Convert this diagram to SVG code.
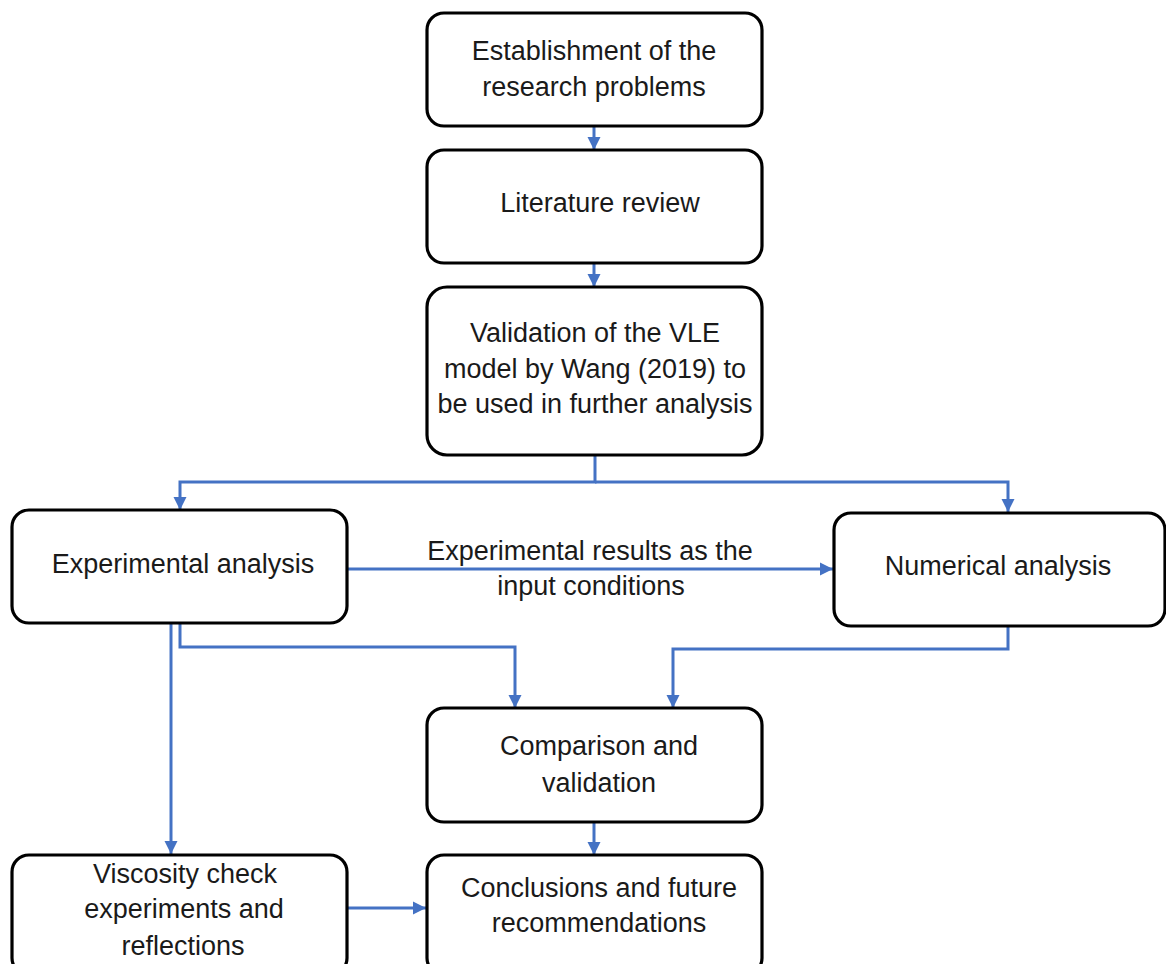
<svg xmlns="http://www.w3.org/2000/svg" width="1166" height="964" viewBox="0 0 1166 964">
<style>
.box{fill:#fff;stroke:#000;stroke-width:3.2}
.t{font-family:"Liberation Sans",Arial,sans-serif;font-size:27px;fill:#1a1a1a;text-anchor:middle}
.c{fill:none;stroke:#4472C4;stroke-width:3}
</style>
<defs>
<marker id="ah" markerUnits="userSpaceOnUse" markerWidth="14" markerHeight="14" viewBox="0 0 14 14" refX="13" refY="7" orient="auto">
<path d="M0,0.5 L13,7 L0,13.5 Z" fill="#4472C4"/>
</marker>
</defs>
<rect width="1166" height="964" fill="#fff"/>
<g id="connectors">
<path class="c" d="M594,127 V150" marker-end="url(#ah)"/>
<path class="c" d="M594,263 V287" marker-end="url(#ah)"/>
<path class="c" d="M595,455 V482 H180 V510" marker-end="url(#ah)"/>
<path class="c" d="M595,482 H1008 V512" marker-end="url(#ah)"/>
<path class="c" d="M347,569 H833" marker-end="url(#ah)"/>
<path class="c" d="M171,623 V854" marker-end="url(#ah)"/>
<path class="c" d="M180,623 V647 H515 V708" marker-end="url(#ah)"/>
<path class="c" d="M1008,626 V649 H673 V708" marker-end="url(#ah)"/>
<path class="c" d="M594,822 V855" marker-end="url(#ah)"/>
<path class="c" d="M347,908 H426" marker-end="url(#ah)"/>
<text class="t" x="590" y="560">Experimental results as the</text>
<text class="t" x="591" y="595">input conditions</text>
</g>
<g id="n1">
<rect class="box" x="427" y="13" width="335" height="113" rx="17"/>
<text class="t" x="594" y="60">Establishment of the</text>
<text class="t" x="594" y="96">research problems</text>
</g>
<g id="n2">
<rect class="box" x="427" y="150" width="335" height="113" rx="17"/>
<text class="t" x="600" y="212">Literature review</text>
</g>
<g id="n3">
<rect class="box" x="427" y="287" width="335" height="168" rx="20"/>
<text class="t" x="595" y="342">Validation of the VLE</text>
<text class="t" x="595" y="378">model by Wang (2019) to</text>
<text class="t" x="595" y="413">be used in further analysis</text>
</g>
<g id="n4">
<rect class="box" x="12" y="510" width="335" height="113" rx="17"/>
<text class="t" x="183" y="573">Experimental analysis</text>
</g>
<g id="n5">
<rect class="box" x="834" y="513" width="331" height="113" rx="17"/>
<text class="t" x="998" y="575">Numerical analysis</text>
</g>
<g id="n6">
<rect class="box" x="427" y="708" width="335" height="114" rx="17"/>
<text class="t" x="599" y="755">Comparison and</text>
<text class="t" x="599" y="792">validation</text>
</g>
<g id="n7">
<rect class="box" x="12" y="855" width="335" height="120" rx="17"/>
<text class="t" x="185" y="883">Viscosity check</text>
<text class="t" x="184" y="918">experiments and</text>
<text class="t" x="183" y="955">reflections</text>
</g>
<g id="n8">
<rect class="box" x="427" y="855" width="335" height="120" rx="17"/>
<text class="t" x="599" y="897">Conclusions and future</text>
<text class="t" x="599" y="932">recommendations</text>
</g>
</svg>
